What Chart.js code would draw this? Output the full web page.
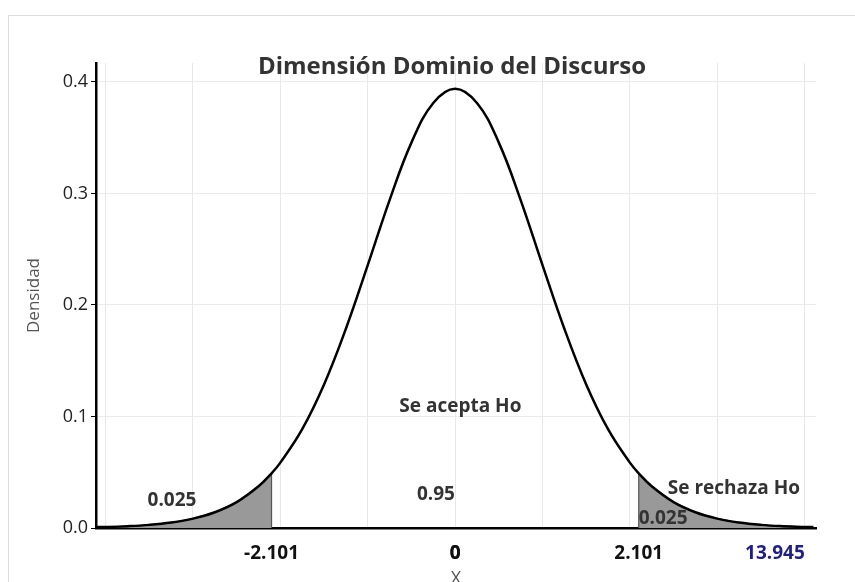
<!DOCTYPE html>
<html>
<head>
<meta charset="utf-8">
<script src="https://cdn.jsdelivr.net/npm/chart.js@4.4.1/dist/chart.umd.min.js"></script>
<style>
  html, body { margin: 0; padding: 0; background: #fff; }
  #wrap { width: 855px; height: 582px; position: relative; }
</style>
</head>
<body>
<div id="wrap"><canvas id="chart" width="855" height="582"></canvas></div>
<script>
// ===============================
// DATA
// ===============================
const xValues = [-4.11, -4, -3.75, -3.5, -3.25, -3, -2.75, -2.5, -2.25, -2.101, -2, -1.75, -1.5, -1.25, -1, -0.75, -0.5, -0.25,
  0, 0.25, 0.5, 0.75, 1, 1.25, 1.5, 1.75, 2, 2.101, 2.25, 2.5, 2.75, 3, 3.25, 3.5, 3.75, 4, 4.1];
const density = [0.0008, 0.0009, 0.0016, 0.0028, 0.0049, 0.0084, 0.0141, 0.0232, 0.0374, 0.0490, 0.0586, 0.0886, 0.1287, 0.1787, 0.2357, 0.2941, 0.3456, 0.3812,
  0.3940, 0.3812, 0.3456, 0.2941, 0.2357, 0.1787, 0.1287, 0.0886, 0.0586, 0.0490, 0.0374, 0.0232, 0.0141, 0.0084, 0.0049, 0.0028, 0.0016, 0.0009, 0.0008];
const critical = 2.101;
const yTicks = [0, 0.1, 0.2, 0.3, 0.4];
const xGridTicks = [-4, -3, -2, -1, 0, 1, 2, 3, 4];
const xLabelTicks = [-2.101, 0, 2.101, 3.66];
const xLabelText = ["-2.101", "0", "2.101", "13.945"];

const notes = [
  { text: "Se acepta Ho", x: 0.06, y: 0.109 },
  { text: "0.95", x: -0.22, y: 0.030 },
  { text: "0.025", x: -3.24, y: 0.025 },
  { text: "Se rechaza Ho", x: 3.19, y: 0.035 },
  { text: "0.025", x: 2.38, y: 0.008 }
];

// ===============================
// Build datasets
// ===============================
const curve = xValues.map((x, i) => ({ x, y: density[i] }));
const leftTail = curve.filter(p => p.x <= -critical + 1e-9).concat([{ x: -critical, y: 0 }]);
const rightTail = [{ x: critical, y: 0 }].concat(curve.filter(p => p.x >= critical - 1e-9));

// frame + title + text notes
const extras = {
  id: "extras",
  beforeDraw(chart) {
    const ctx = chart.ctx;
    ctx.save();
    ctx.strokeStyle = "#dcdcdc";
    ctx.lineWidth = 1;
    ctx.strokeRect(8.5, 15.5, 900, 700);
    ctx.restore();
  },
  afterDraw(chart) {
    const ctx = chart.ctx;
    const xs = chart.scales.x, ys = chart.scales.y;
    ctx.save();
    ctx.textAlign = "center";
    ctx.textBaseline = "middle";
    ctx.fillStyle = "#333";
    ctx.font = "bold 24px 'Open Sans'";
    ctx.fillText("Dimensión Dominio del Discurso", 452, 67);
    ctx.font = "bold 19px 'Open Sans'";
    notes.forEach(n => {
      ctx.fillText(n.text, xs.getPixelForValue(n.x), ys.getPixelForValue(n.y));
    });
    ctx.restore();
  }
};

new Chart(document.getElementById("chart"), {
  type: "line",
  data: {
    datasets: [
      {
        data: curve,
        borderColor: "#000",
        borderWidth: 2.5,
        pointRadius: 0,
        tension: 0.4,
        fill: false,
        order: 0
      },
      {
        data: leftTail,
        borderColor: "#555",
        borderWidth: 1.2,
        backgroundColor: "#999",
        pointRadius: 0,
        tension: 0,
        fill: "origin",
        order: 1
      },
      {
        data: rightTail,
        borderColor: "#555",
        borderWidth: 1.2,
        backgroundColor: "#999",
        pointRadius: 0,
        tension: 0,
        fill: "origin",
        order: 1
      }
    ]
  },
  options: {
    responsive: false,
    animation: false,
    layout: { padding: { top: 63, right: 39, left: 0, bottom: 0 } },
    plugins: { legend: { display: false }, tooltip: { enabled: false }, title: { display: false } },
    scales: {
      x: {
        type: "linear",
        min: -4.11,
        max: 4.13,
        afterFit: s => { s.height = 54; },
        afterBuildTicks: s => {
          s.ticks = xGridTicks.map(v => ({ value: v })).concat(xLabelTicks.map(v => ({ value: v })));
        },
        grid: {
          color: c => (Number.isInteger(c.tick.value) ? "#e8e8e8" : "rgba(0,0,0,0)"),
          drawTicks: false
        },
        border: { color: "#000", width: 2.5 },
        ticks: {
          autoSkip: false,
          maxRotation: 0,
          padding: 14,
          font: { family: "'Open Sans'", size: 19, weight: "bold" },
          color: c => (c.tick && c.tick.value === 3.66 ? "#1f1f8a" : "#111"),
          callback: v => {
            const i = xLabelTicks.indexOf(v);
            return i >= 0 ? xLabelText[i] : "";
          }
        },
        title: {
          display: true,
          text: "X",
          color: "#555",
          font: { family: "'Open Sans'", size: 18 },
          padding: { top: 0, bottom: -8 }
        }
      },
      y: {
        min: 0,
        max: 0.417,
        afterFit: s => { s.width = 96; },
        afterBuildTicks: s => { s.ticks = yTicks.map(v => ({ value: v })); },
        grid: { color: "#ebebeb", tickColor: "#000", tickLength: 5 },
        border: { color: "#000", width: 2.5 },
        ticks: {
          padding: 3,
          color: "#222",
          font: { family: "'Open Sans'", size: 18 },
          callback: v => v.toFixed(1)
        },
        title: {
          display: true,
          text: "Densidad",
          color: "#555",
          font: { family: "'Open Sans'", size: 17 },
          padding: { top: 24, bottom: 0 }
        }
      }
    }
  },
  plugins: [extras]
});
</script>
</body>
</html>
